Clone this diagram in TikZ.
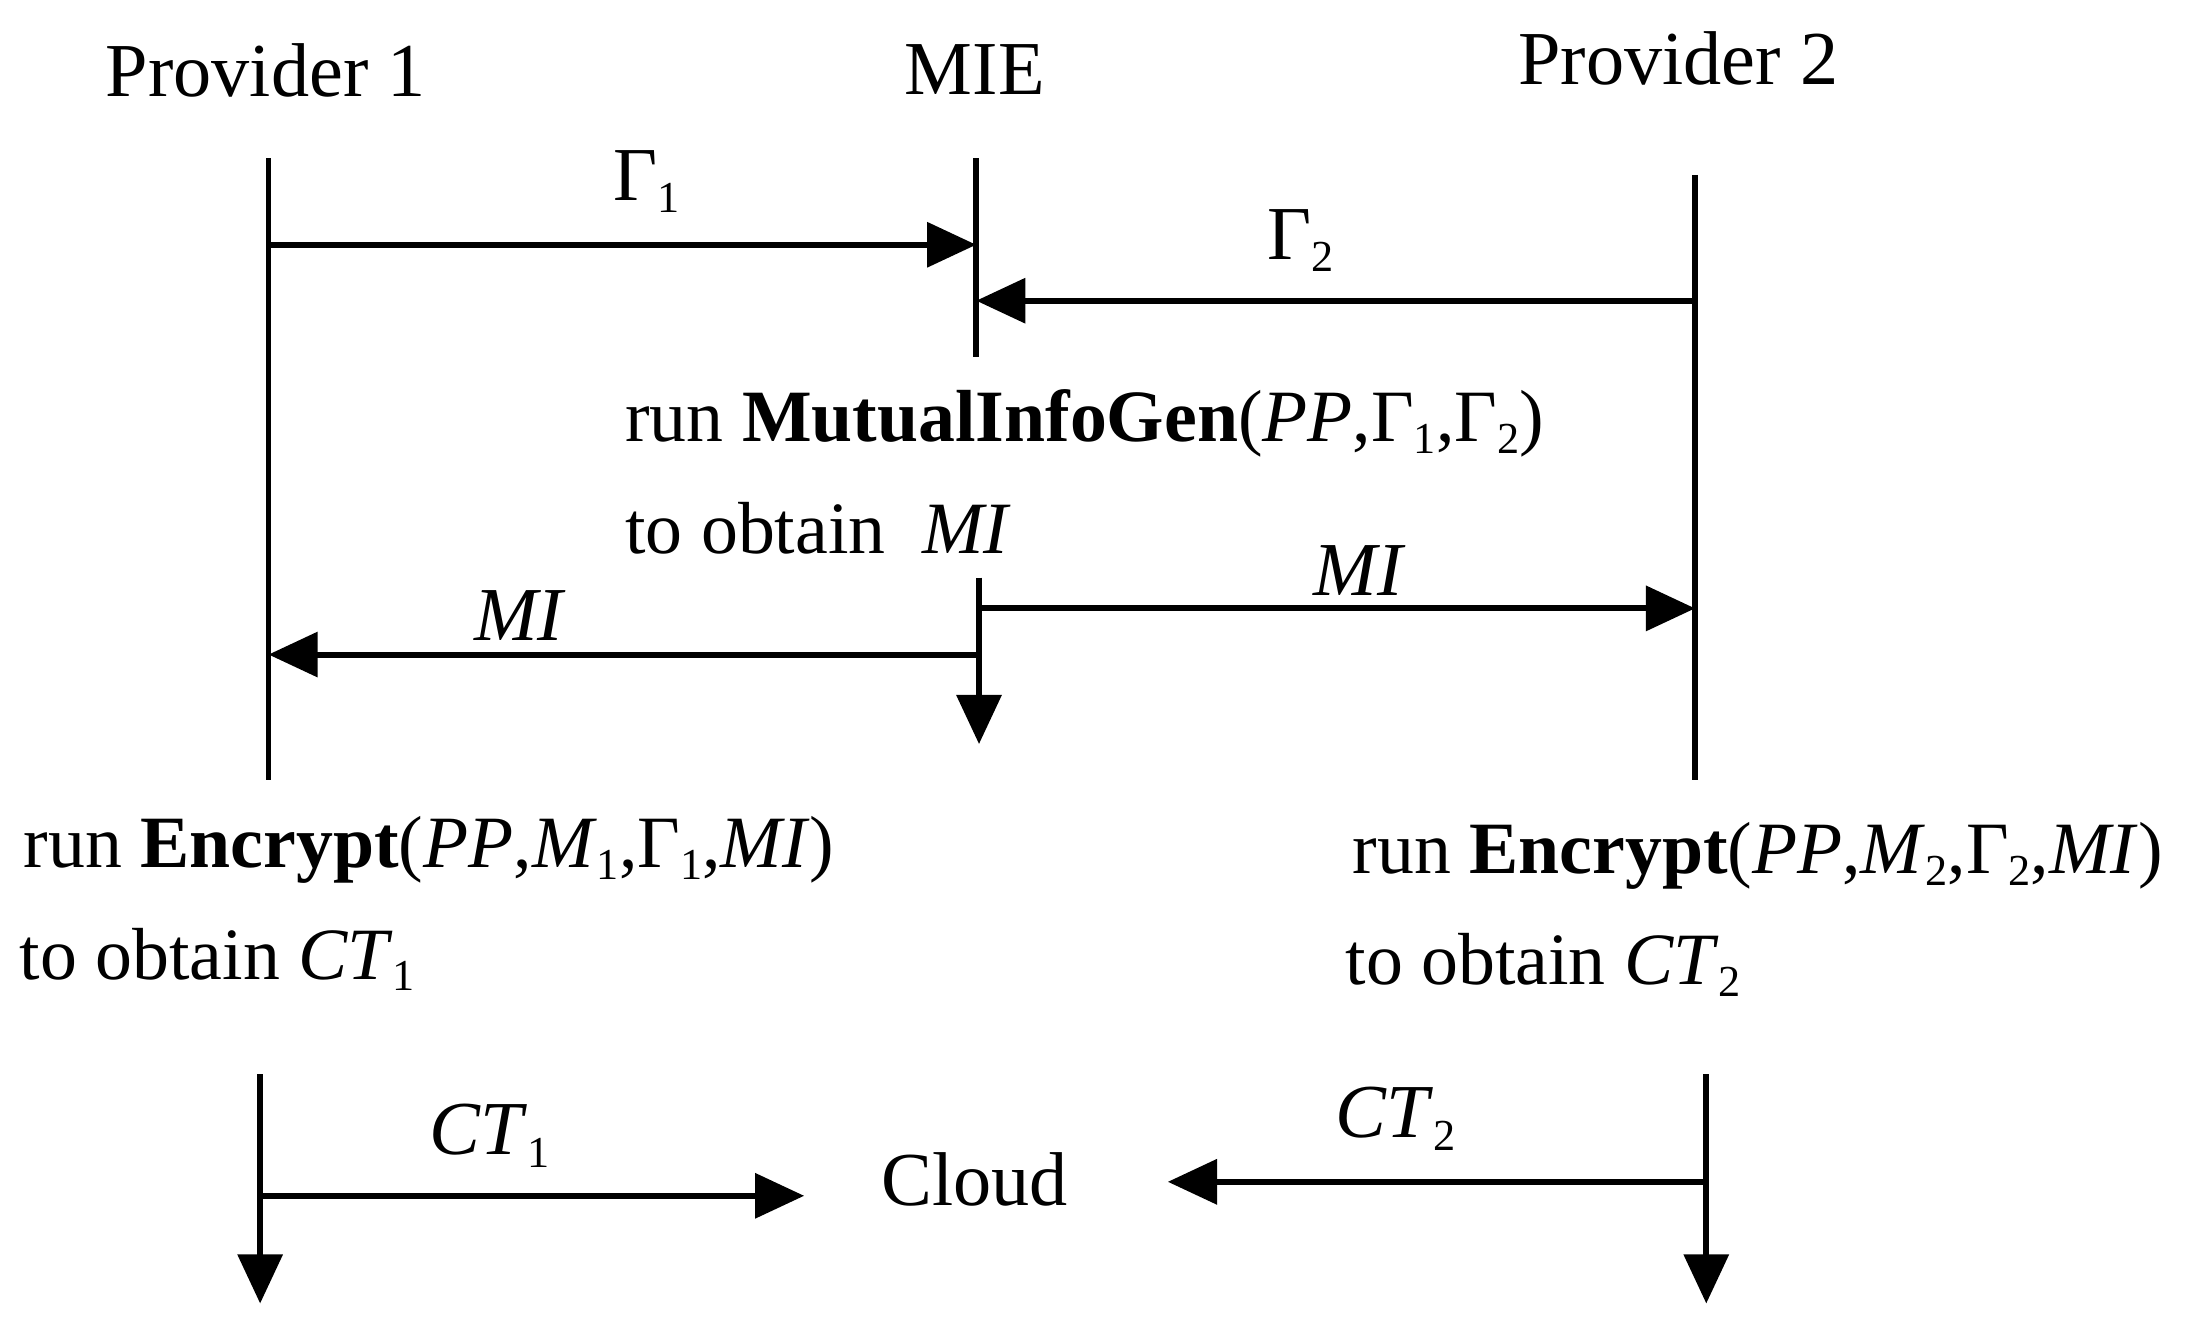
\documentclass[tikz,border=0pt]{standalone}
\usepackage{fontspec}
\setmainfont{Liberation Serif}
\usetikzlibrary{arrows.meta}
\newcommand{\sbs}[1]{\raisebox{-0.35ex}{\fontsize{9}{10}\selectfont #1}}
\begin{document}
\begin{tikzpicture}[x=0.01cm,y=-0.01cm,line width=1.2pt,
  arr/.style={-{Triangle[length=10pt,width=9pt]}},
  lbl/.style={font=\fontsize{15.5}{18}\selectfont,inner sep=0pt},
  txt/.style={font=\fontsize{15}{18}\selectfont,inner sep=0pt,anchor=west}]
\useasboundingbox (0,0) rectangle (1568,951);
\node[lbl] (p1) at (190,50) {Provider 1};
\node[lbl] (mie) at (697,50) {MIE};
\node[lbl] (p2) at (1200,42) {Provider 2};
\coordinate (p1t) at (192,113); \coordinate (p1b) at (192,558);
\coordinate (mt) at (698,113); \coordinate (mb) at (698,255);
\coordinate (p2t) at (1212,125); \coordinate (p2b) at (1212,558);
\draw (p1t) -- (p1b); \draw (mt) -- (mb); \draw (p2t) -- (p2b);
\coordinate (a1) at (192,175); \coordinate (a2) at (698,175);
\draw[arr] (a1) -- (a2);
\node[lbl] (g1) at (462,130) {Γ\sbs{1}};
\coordinate (b1) at (1212,215); \coordinate (b2) at (698,215);
\draw[arr] (b1) -- (b2);
\node[lbl] (g2) at (930,172) {Γ\sbs{2}};
\node[txt] (t1) at (445,303) {run \textbf{MutualInfoGen}(\textit{PP},Γ\sbs{1},Γ\sbs{2})};
\node[txt] (t2) at (445,378) {to obtain \ \textit{MI}};
\coordinate (m2t) at (700,413); \coordinate (m2b) at (700,532);
\draw[arr] (m2t) -- (m2b);
\coordinate (c1) at (700,435); \coordinate (c2) at (1212,435);
\draw[arr] (c1) -- (c2);
\node[lbl] (mi1) at (972,408) {\textit{MI}};
\coordinate (d1) at (700,468); \coordinate (d2) at (192,468);
\draw[arr] (d1) -- (d2);
\node[lbl] (mi2) at (372,440) {\textit{MI}};
\node[txt] (e1) at (15,608) {run \textbf{Encrypt}(\textit{PP},\textit{M}\sbs{1},Γ\sbs{1},\textit{MI})};
\node[txt] (e2) at (12,686) {to obtain \textit{CT}\sbs{1}};
\node[txt] (f1) at (965,612) {run \textbf{Encrypt}(\textit{PP},\textit{M}\sbs{2},Γ\sbs{2},\textit{MI})};
\node[txt] (f2) at (960,690) {to obtain \textit{CT}\sbs{2}};
\node[lbl] (cloud) at (697,843) {Cloud};
\coordinate (q1t) at (186,768); \coordinate (q1b) at (186,932);
\draw[arr] (q1t) -- (q1b);
\coordinate (q2t) at (1220,768); \coordinate (q2b) at (1220,932);
\draw[arr] (q2t) -- (q2b);
\coordinate (h1) at (186,855); \coordinate (h2) at (575,855);
\draw[arr] (h1) -- (h2);
\node[lbl] (ct1) at (350,812) {\textit{CT}\sbs{1}};
\coordinate (k1) at (1220,845); \coordinate (k2) at (835,845);
\draw[arr] (k1) -- (k2);
\node[lbl] (ct2) at (998,800) {\textit{CT}\sbs{2}};
\end{tikzpicture}
\end{document}
